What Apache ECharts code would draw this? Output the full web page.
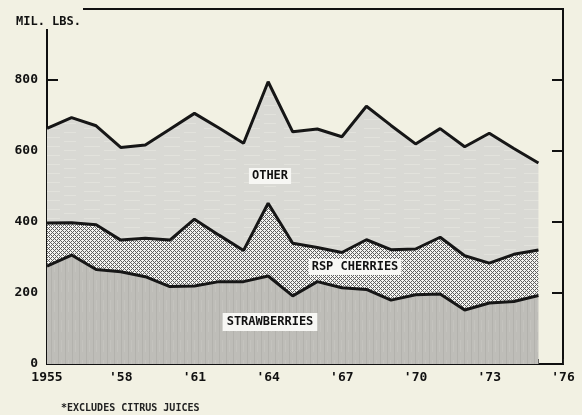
<!DOCTYPE html>
<html>
<head>
<meta charset="utf-8">
<script src="https://cdn.jsdelivr.net/npm/echarts@6/dist/echarts.min.js"></script>
<style>
  html, body { margin: 0; padding: 0; background: #f2f1e3; }
  #chart { width: 582px; height: 415px; }
</style>
</head>
<body>
<div id="chart"></div>
<script>
// years 1955 - 1975, million lbs (stacked)
const years = ['1955', '1956', '1957', '1958', '1959', '1960', '1961', '1962', '1963', '1964', '1965',
  '1966', '1967', '1968', '1969', '1970', '1971', '1972', '1973', '1974', '1975'];
const strawberries = [276, 307, 266, 260, 246, 218, 220, 232, 232, 248, 192,
  232, 215, 210, 180, 195, 197, 152, 172, 176, 193];
const rspCherries = [121, 91, 126, 89, 108, 131, 188, 131, 88, 205, 148,
  96, 99, 140, 142, 129, 160, 153, 112, 133, 128];
const other = [267, 296, 279, 261, 263, 312, 298, 302, 302, 342, 314,
  334, 326, 376, 350, 296, 306, 307, 366, 298, 245];
// axis runs one year past the data
const axisYears = years.concat(['1976']);

const FONT = '"DejaVu Sans Mono", "Liberation Mono", monospace';
const BG = '#f2f1e3';

// small tile canvases for the printed textures
function makeTile(w, h, draw) {
  const c = document.createElement('canvas');
  c.width = w; c.height = h;
  draw(c.getContext('2d'));
  return c;
}
const crossHatch = makeTile(8, 8, g => {
  g.fillStyle = '#f4f4f1';
  g.fillRect(0, 0, 8, 8);
  g.fillStyle = '#5e5e5e';
  for (let x = 0; x < 8; x++) {
    for (let y = 0; y < 8; y++) {
      if ((x + y) % 4 === 0 || (x - y + 8) % 4 === 0) g.fillRect(x, y, 1, 1);
    }
  }
});
const vertStreaks = makeTile(7, 20, g => {
  g.fillStyle = '#bebdb8';
  g.fillRect(0, 0, 7, 20);
  g.fillStyle = '#b3b2ad';
  g.fillRect(2, 0, 1, 20);
  g.fillStyle = '#c4c3be';
  g.fillRect(5, 0, 1, 12);
});
const horizDashes = makeTile(40, 9, g => {
  g.fillStyle = '#d9d9d4';
  g.fillRect(0, 0, 40, 9);
  g.fillStyle = '#e2e2dc';
  g.fillRect(4, 2, 16, 1);
  g.fillRect(24, 6, 12, 1);
});

function areaSeries(name, values, fill, z) {
  return {
    name: name,
    type: 'line',
    stack: 'total',
    data: values,
    symbol: 'none',
    z: z,
    lineStyle: { color: '#161616', width: 3 },
    areaStyle: { color: { image: fill, repeat: 'repeat' }, opacity: 1 },
    emphasis: { disabled: true }
  };
}

const chart = echarts.init(document.getElementById('chart'));
chart.setOption({
  backgroundColor: BG,
  animation: false,
  grid: { left: 47, right: 19, top: 9, bottom: 51, show: true, borderColor: '#111', borderWidth: 2, backgroundColor: 'transparent' },
  xAxis: {
    type: 'category', data: axisYears, boundaryGap: false,
    axisLine: { lineStyle: { color: '#111', width: 2 } },
    axisTick: { inside: true, length: 5, interval: 0, lineStyle: { color: '#222' } },
    splitLine: { show: false },
    axisLabel: {
      color: '#111', fontFamily: FONT, fontWeight: 'bold', fontSize: 13, margin: 7, interval: 2,
      formatter: v => v === '1955' ? '1955' : "'" + v.slice(2)
    }
  },
  yAxis: [
    {
      type: 'value', min: 0, max: 1000, interval: 200,
      axisLine: { show: true, lineStyle: { color: '#111', width: 2 } },
      axisTick: { show: true, inside: true, length: 11, lineStyle: { color: '#111', width: 2 } },
      splitLine: { show: false },
      axisLabel: {
        color: '#111', fontFamily: FONT, fontWeight: 'bold', fontSize: 13, margin: 9,
        formatter: v => v === 1000 ? '' : String(v)
      }
    },
    {
      type: 'value', position: 'right', min: 0, max: 1000, interval: 200,
      axisLine: { show: true, lineStyle: { color: '#111', width: 2 } },
      axisTick: { show: true, inside: true, length: 11, lineStyle: { color: '#111', width: 2 } },
      splitLine: { show: false },
      axisLabel: { show: false }
    }
  ],
  series: [
    areaSeries('STRAWBERRIES', strawberries, vertStreaks, 5),
    areaSeries('RSP CHERRIES', rspCherries, crossHatch, 4),
    areaSeries('OTHER', other, horizDashes, 3)
  ],
  graphic: [
    // top-left corner is left open for the unit label
    { type: 'rect', left: 38, top: 0, z: 100, shape: { width: 45, height: 29 }, style: { fill: BG } },
    { type: 'text', left: 16, top: 16, z: 101,
      style: { text: 'MIL. LBS.', fill: '#111', font: 'bold 12px ' + FONT } },
    { type: 'text', x: 270, y: 176, z: 101,
      style: { text: 'OTHER', fill: '#111', font: 'bold 12px ' + FONT, align: 'center', verticalAlign: 'middle',
        backgroundColor: '#f7f7f4', padding: [2, 3] } },
    { type: 'text', x: 355, y: 267, z: 101,
      style: { text: 'RSP CHERRIES', fill: '#111', font: 'bold 12px ' + FONT, align: 'center', verticalAlign: 'middle',
        backgroundColor: '#f7f7f4', padding: [2, 3] } },
    { type: 'text', x: 270, y: 322, z: 101,
      style: { text: 'STRAWBERRIES', fill: '#111', font: 'bold 12px ' + FONT, align: 'center', verticalAlign: 'middle',
        backgroundColor: '#f7f7f4', padding: [3, 4] } },
    { type: 'text', left: 61, top: 403, z: 101,
      style: { text: '*EXCLUDES CITRUS JUICES', fill: '#222', font: 'bold 10px ' + FONT } }
  ]
});
</script>
</body>
</html>
